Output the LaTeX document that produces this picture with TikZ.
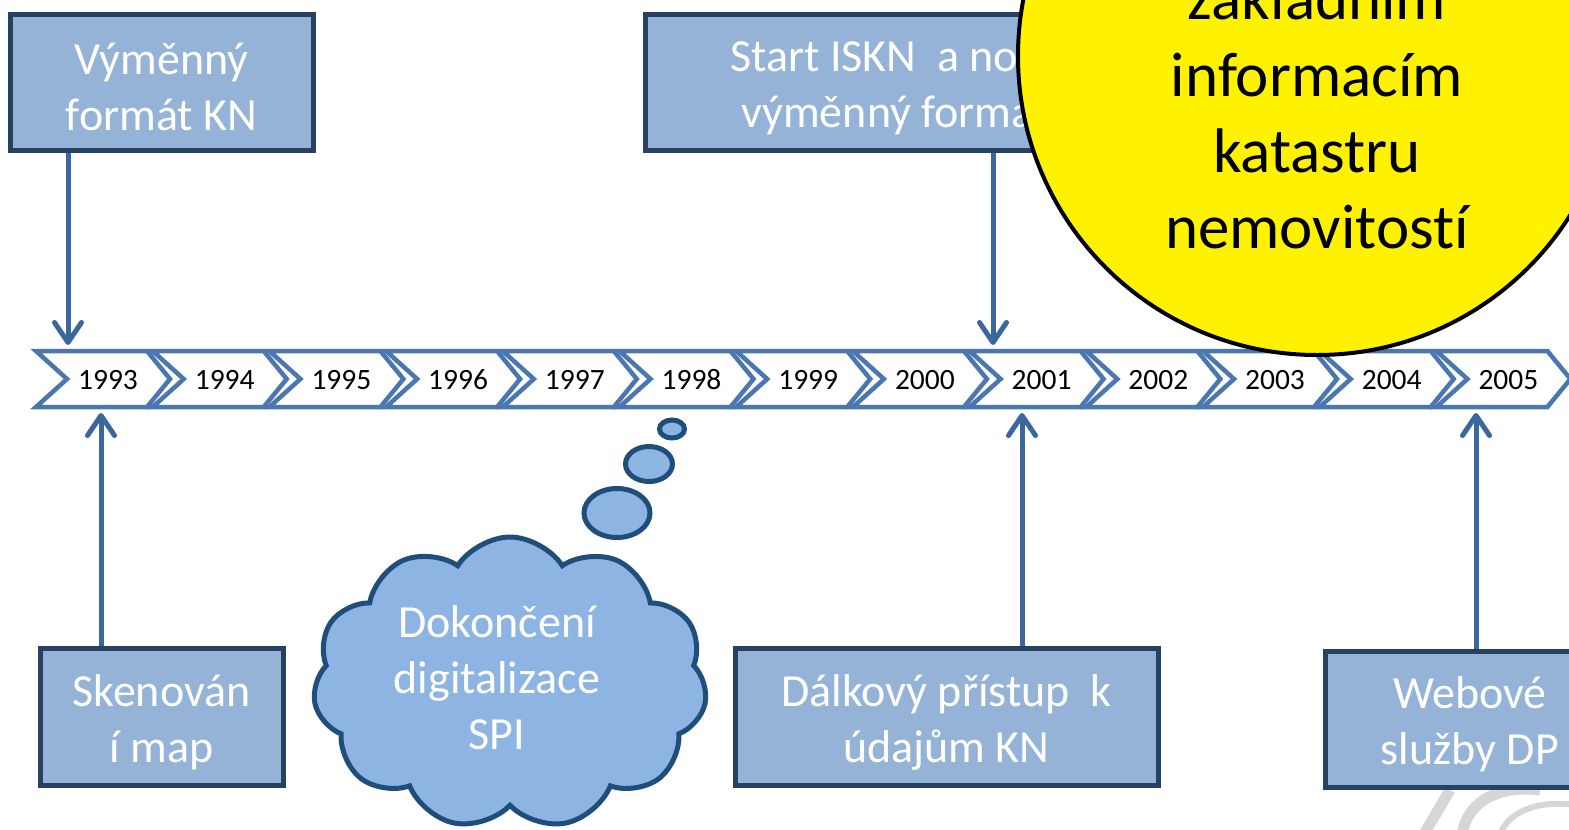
\documentclass[tikz,border=0pt]{standalone}
\usepackage{fontspec}
\setmainfont{Carlito}[Ligatures={NoCommon}]
\usetikzlibrary{arrows.meta,shapes.symbols,shapes.geometric}
\definecolor{boxfill}{RGB}{149,179,215}
\definecolor{boxline}{RGB}{39,65,99}
\definecolor{arrcol}{RGB}{59,103,158}
\definecolor{chevcol}{RGB}{75,119,176}
\definecolor{cloudfill}{RGB}{141,180,226}
\definecolor{cloudline}{RGB}{31,78,122}
\definecolor{wmcol}{RGB}{214,214,214}
\newcommand\bxf{\fontsize{46}{56}\selectfont}
\newcommand\crf{\fontsize{63}{76}\selectfont}
\tikzset{
  tlbox/.style={draw=boxline, line width=5pt, fill=boxfill, inner sep=0pt},
  bxtext/.style={text=white, font=\bxf, align=center, inner sep=0pt},
  chevshape/.style={draw=chevcol, line width=4.5pt, fill=white, line join=miter},
  yearlbl/.style={font=\fontsize{29.5}{34}\selectfont, text=black, inner sep=0pt},
  arr/.style={draw=arrcol, line width=5pt, -{Straight Barb[length=20pt, width=27pt, round]}},
  circtxt/.style={text=black, font=\crf, anchor=base, inner sep=0pt},
  bubble/.style={ellipse, draw=cloudline, line width=5pt, fill=cloudfill, inner sep=0pt},
  wm/.style={draw=wmcol, line width=11pt}
}
\begin{document}
\begin{tikzpicture}[x=1pt,y=-1pt]
\useasboundingbox (0,0) rectangle (1569,830);
\fill[white] (0,0) rectangle (1569,830);

% watermark
\draw[wm] (1450,790) -- (1424,834);
\draw[wm] (1462,834) .. controls (1468,800) and (1500,785) .. (1540,790);
\draw[wm, line width=6pt] (1500,834) .. controls (1510,810) and (1540,800) .. (1575,805);

% boxes
\node[tlbox, minimum width=303, minimum height=136] (b1) at (161.5,82) {};
\node[bxtext] (b1t) at (161.5,87) {Výměnný\\formát KN};
\node[tlbox, minimum width=500, minimum height=136] (b2) at (895,82) {};
\node[bxtext] (b2t) at (895,87) {Start ISKN\ \ a nový\\výměnný formát};
\node[tlbox, minimum width=243, minimum height=137] (b3) at (161.5,716.5) {};
\node[bxtext] (b3t) at (161.5,722) {Skenován\\í map};
\node[tlbox, minimum width=423, minimum height=137] (b4) at (946.5,716.5) {};
\node[bxtext] (b4t) at (946.5,722) {Dálkový přístup\ \ k\\údajům KN};
\node[tlbox, minimum width=290, minimum height=136] (b5) at (1470,719) {};
\node[bxtext] (b5t) at (1470,724) {Webové\\služby DP};

% chevrons
\foreach \i in {0,...,12}{
  \pgfmathsetmacro\xo{36+116.7*\i}
  \pgfmathtruncatemacro\yr{1993+\i}
  \draw[chevshape] (\xo,351) -- ++(111,0) -- ++(23,28) -- ++(-23,28) -- ++(-111,0) -- ++(31,-28) -- cycle;
  \node[yearlbl] (y\yr) at (\xo+72,380) {\yr};
}

% arrow end points
\coordinate (t1993) at (68,345);
\coordinate (t2001) at (993,345);
\coordinate (u1993) at (101,413);
\coordinate (u2001) at (1022,413);
\coordinate (u2005) at (1476,413);

\draw[arr] (t1993 |- b1.south) -- (t1993);
\draw[arr] (t2001 |- b2.south) -- (t2001);
\draw[arr] (u1993 |- b3.north) -- (u1993);
\draw[arr] (u2001 |- b4.north) -- (u2001);
\draw[arr] (u2005 |- b5.north) -- (u2005);

% thought cloud
\node[cloud, cloud puffs=11, cloud puff arc=115, cloud ignores aspect, aspect=1.35,
      minimum width=394, minimum height=292, draw=cloudline, line width=5pt, fill=cloudfill] (cl) at (510,683) {};
\node[bxtext] (cltext) at (497,678) {Dokončení\\digitalizace\\SPI};
\node[bubble, minimum width=66, minimum height=49] (bb1) at (617,513) {};
\node[bubble, minimum width=47, minimum height=35] (bb2) at (649,464) {};
\node[bubble, minimum width=25, minimum height=18] (bb3) at (672,429) {};

% yellow circle
\node[circle, draw=black, line width=4pt, fill=yellow, minimum size=598, inner sep=0pt] (kc) at (1317,56) {};
\node[circtxt] (l1) at (1317,19) {základním};
\node[circtxt] (l2) at (1317,96) {informacím};
\node[circtxt] (l3) at (1317,172) {katastru};
\node[circtxt] (l4) at (1317,248) {nemovitostí};
\end{tikzpicture}
\end{document}
